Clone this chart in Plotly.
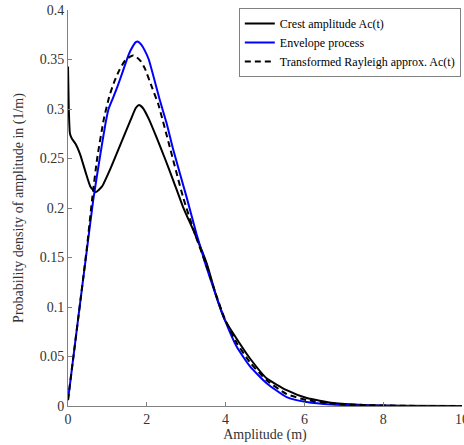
import plotly.graph_objects as go

# Crest amplitude Ac(t)
crest_x = [0, 0.02, 0.05, 0.10, 0.19, 0.31, 0.44, 0.57, 0.70, 0.86, 1.08, 1.33, 1.59, 1.72,
           1.80, 1.90, 2.05, 2.25, 2.46, 2.67, 2.92, 3.22, 3.52, 3.77, 3.98, 4.28, 4.62,
           5.04, 5.55, 6.06, 6.73, 7.5, 8.5, 10]
crest_y = [0.343, 0.300, 0.275, 0.270, 0.265, 0.254, 0.237, 0.2215, 0.216, 0.2215, 0.240,
           0.264, 0.289, 0.301, 0.304, 0.301, 0.290, 0.271, 0.250, 0.228, 0.201, 0.174,
           0.144, 0.110, 0.087, 0.068, 0.048, 0.028, 0.016, 0.008, 0.003, 0.001, 0.0003,
           0.0]

# Envelope process
env_x = [0, 0.16, 0.32, 0.48, 0.64, 0.82, 0.95, 1.03, 1.14, 1.25, 1.40, 1.54, 1.64, 1.72,
         1.78, 1.86, 1.95, 2.05, 2.33, 2.50, 2.67, 3.01, 3.26, 3.50, 3.77, 3.98, 4.28,
         4.62, 5.04, 5.55, 6.06, 6.7, 7.5, 8.5, 10]
env_y = [0.006, 0.057, 0.108, 0.158, 0.208, 0.254, 0.285, 0.300, 0.311, 0.322, 0.339,
         0.355, 0.363, 0.3675, 0.368, 0.365, 0.359, 0.350, 0.309, 0.286, 0.259, 0.211,
         0.174, 0.142, 0.110, 0.087, 0.060, 0.040, 0.023, 0.009, 0.004, 0.0015, 0.0005,
         0.0001, 0.0]

# Transformed Rayleigh approx. Ac(t)
ray_x = [0, 0.16, 0.32, 0.48, 0.61, 0.74, 0.91, 1.05, 1.16, 1.30, 1.45, 1.58, 1.66, 1.75,
         1.85, 1.95, 2.13, 2.29, 2.58, 2.92, 3.22, 3.52, 3.77, 3.98, 4.28, 4.62, 5.04,
         5.55, 6.06, 6.73, 7.5, 8.5, 10]
ray_y = [0.006, 0.057, 0.108, 0.160, 0.208, 0.250, 0.290, 0.313, 0.326, 0.339, 0.349,
         0.353, 0.354, 0.352, 0.348, 0.341, 0.322, 0.305, 0.262, 0.211, 0.174, 0.141,
         0.111, 0.088, 0.064, 0.044, 0.026, 0.012, 0.006, 0.0025, 0.001, 0.0002, 0.0]

x_ticks = [0, 2, 4, 6, 8, 10]
y_ticks = [0, 0.05, 0.1, 0.15, 0.2, 0.25, 0.3, 0.35, 0.4]
y_tick_labels = ["0", "0.05", "0.1", "0.15", "0.2", "0.25", "0.3", "0.35", "0.4"]

serif = "Liberation Serif"

fig = go.Figure()
fig.add_trace(go.Scatter(x=crest_x, y=crest_y, mode="lines", name="Crest amplitude Ac(t)",
                         line=dict(color="#000000", width=2, shape="spline", smoothing=0.5)))
fig.add_trace(go.Scatter(x=env_x, y=env_y, mode="lines", name="Envelope process",
                         line=dict(color="#0000ff", width=2, shape="spline", smoothing=0.5)))
fig.add_trace(go.Scatter(x=ray_x, y=ray_y, mode="lines", name="Transformed Rayleigh approx. Ac(t)",
                         line=dict(color="#000000", width=2, dash="6px,4px", shape="spline",
                                   smoothing=0.5)))

fig.update_layout(
    width=464, height=445,
    margin=dict(l=68, r=2, t=10, b=39, autoexpand=False),
    paper_bgcolor="white", plot_bgcolor="white",
    font=dict(family=serif, size=14, color="#333333"),
    showlegend=True,
    legend=dict(x=0.997, y=1.005, xanchor="right", yanchor="top",
                bgcolor="white", bordercolor="#808080", borderwidth=1,
                font=dict(family=serif, size=12, color="#000000"),
                itemwidth=30, tracegroupgap=0),
    xaxis=dict(range=[0, 10], tickvals=x_ticks, ticks="inside", ticklen=4,
               tickcolor="#808080", showline=True, linecolor="#808080", linewidth=1,
               showgrid=False, zeroline=False, mirror=False, ticklabeloverflow="allow",
               automargin=False,
               tickfont=dict(family=serif, size=14, color="#333333"),
               title=dict(text="Amplitude (m)", font=dict(family=serif, size=14, color="#333333"),
                          standoff=2)),
    yaxis=dict(range=[0, 0.4], tickvals=y_ticks, ticktext=y_tick_labels, ticks="inside",
               ticklen=4, tickcolor="#808080", showline=True, linecolor="#808080", linewidth=1,
               showgrid=False, zeroline=False, mirror=False, automargin=False,
               tickfont=dict(family=serif, size=14, color="#333333"),
               title=dict(text="Probability density of amplitude in (1/m)",
                          font=dict(family=serif, size=14, color="#333333"), standoff=12)),
)

fig.write_html("out.html")
